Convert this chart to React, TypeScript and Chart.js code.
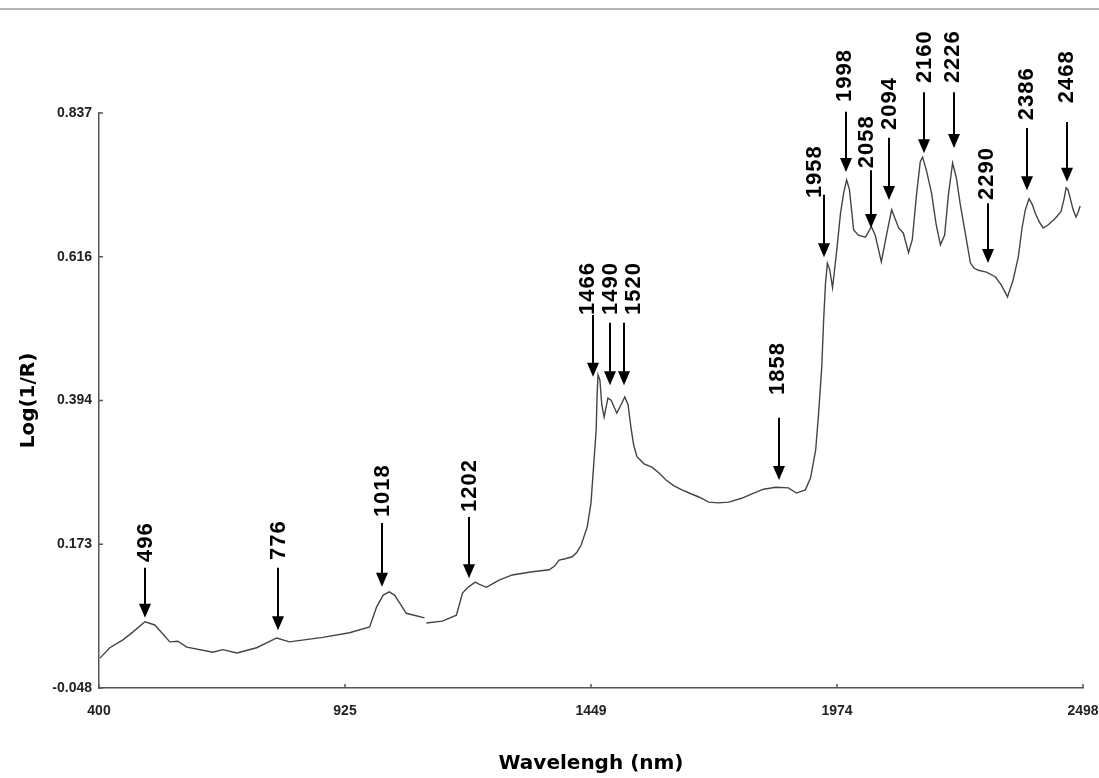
import React, { useEffect, useRef } from 'react';
import { Chart, registerables } from 'chart.js';

Chart.register(...registerables);

// Spectrum (wavelength in nm, Log(1/R)); null marks the break in the trace
const wavelengths = [
  402, 423, 451, 472, 498, 519, 551, 568, 587, 643, 664, 694, 736, 779, 806, 877, 934, 977, 992, 1006,
  1019, 1030, 1041, 1055, 1072, 1094, 1096,
  1098, 1132, 1162, 1175, 1185, 1202, 1210, 1226, 1238, 1253, 1281, 1324, 1360, 1372, 1381, 1394, 1409,
  1419, 1428, 1441, 1449, 1455, 1460, 1462, 1464, 1468, 1472, 1477, 1485, 1492, 1504, 1513, 1521, 1528,
  1534, 1540, 1547, 1562, 1579, 1594, 1609, 1626, 1643, 1662, 1679, 1700, 1721, 1743, 1770, 1796, 1817,
  1843, 1870, 1887, 1906, 1917, 1928, 1934, 1941, 1945, 1949, 1953, 1958, 1964, 1973, 1981, 1988, 1994,
  2000, 2009, 2019, 2034, 2047, 2055, 2068, 2079, 2090, 2098, 2105, 2115, 2126, 2134, 2143, 2151, 2156,
  2164, 2175, 2185, 2194, 2203, 2211, 2220, 2228, 2236, 2247, 2258, 2266, 2275, 2292, 2311, 2324, 2337,
  2349, 2360, 2368, 2375, 2383, 2390, 2396, 2405, 2413, 2424, 2439, 2451, 2458, 2462, 2466, 2470, 2477,
  2483, 2487, 2492,
];
const logInvR = [
  -0.002, 0.014, 0.026, 0.038, 0.054, 0.049, 0.023, 0.024, 0.015, 0.007, 0.011, 0.006, 0.014, 0.029, 0.023,
  0.030, 0.037, 0.046, 0.077, 0.095, 0.100, 0.095, 0.083, 0.067, 0.064, 0.060, null,
  0.052, 0.055, 0.064, 0.098, 0.106, 0.115, 0.112, 0.107, 0.112, 0.118, 0.126, 0.131, 0.134, 0.140, 0.149,
  0.151, 0.154, 0.161, 0.172, 0.200, 0.237, 0.298, 0.349, 0.403, 0.434, 0.426, 0.388, 0.369, 0.398, 0.395,
  0.375, 0.388, 0.400, 0.388, 0.354, 0.326, 0.308, 0.297, 0.292, 0.283, 0.272, 0.263, 0.257, 0.251, 0.246,
  0.238, 0.237, 0.238, 0.244, 0.252, 0.258, 0.261, 0.260, 0.252, 0.257, 0.275, 0.318, 0.372, 0.446, 0.518,
  0.575, 0.606, 0.596, 0.568, 0.626, 0.683, 0.715, 0.734, 0.719, 0.657, 0.649, 0.646, 0.662, 0.649, 0.608,
  0.649, 0.688, 0.673, 0.660, 0.652, 0.622, 0.642, 0.711, 0.762, 0.769, 0.749, 0.714, 0.665, 0.634, 0.649,
  0.711, 0.760, 0.737, 0.698, 0.652, 0.606, 0.598, 0.595, 0.592, 0.585, 0.572, 0.554, 0.580, 0.615, 0.660,
  0.688, 0.705, 0.696, 0.683, 0.669, 0.660, 0.665, 0.675, 0.685, 0.706, 0.722, 0.719, 0.708, 0.688, 0.677,
  0.683, 0.694,
];

// Axis ticks
const xTickValues = [400, 924.5, 1449, 1973.5, 2498];
const xTickLabels = ['400', '925', '1449', '1974', '2498'];
const yTickValues = [-0.048, 0.17325, 0.3945, 0.61575, 0.837];
const yTickLabels = ['-0.048', '0.173', '0.394', '0.616', '0.837'];

// Peak annotations (arrow x, label x in nm; arrow tail/tip and label start in Log(1/R))
const peakLabels = ['496', '776', '1018', '1202', '1466', '1490', '1520', '1858', '1958', '1998', '2058', '2094', '2160', '2226', '2290', '2386', '2468'];
const peakArrowX = [498, 781, 1004, 1189, 1453, 1490, 1519, 1849, 1945, 1992, 2047, 2085, 2158, 2222, 2296, 2379, 2464];
const peakLabelX = [498, 781, 1004, 1189, 1441, 1490, 1538, 1845, 1924, 1988, 2036, 2085, 2158, 2218, 2292, 2377, 2462];
const peakTail = [0.137, 0.137, 0.206, 0.215, 0.526, 0.514, 0.514, 0.368, 0.711, 0.839, 0.749, 0.799, 0.869, 0.869, 0.698, 0.814, 0.823];
const peakTip = [0.060, 0.041, 0.108, 0.121, 0.431, 0.418, 0.418, 0.272, 0.615, 0.746, 0.660, 0.703, 0.775, 0.783, 0.606, 0.718, 0.731];
const peakLabelBase = [0.146, 0.149, 0.215, 0.223, 0.526, 0.526, 0.526, 0.403, 0.706, 0.854, 0.752, 0.811, 0.883, 0.883, 0.703, 0.826, 0.852];

const tickFont = { family: "'Liberation Sans Narrow', 'Liberation Sans', Arial, sans-serif", size: 14, weight: 'bold' as const };
const titleFont = { family: "'DejaVu Sans', 'Liberation Sans', sans-serif", size: 20, weight: 'bold' as const };

const decorPlugin = {
  id: 'decor',
  beforeDraw(chart: any) {
    const { ctx, width } = chart;
    ctx.save();
    ctx.fillStyle = '#ffffff';
    ctx.fillRect(0, 0, width, chart.height);
    ctx.fillStyle = '#b4b4b4';
    ctx.fillRect(0, 8, width, 2);
    ctx.restore();
  },
  afterDraw(chart: any) {
    const { ctx, scales } = chart;
    const xs = scales.x;
    const ys = scales.y;
    const area = chart.chartArea;
    ctx.save();
    // inward tick marks
    ctx.strokeStyle = '#555';
    ctx.lineWidth = 1.5;
    xTickValues.forEach((v) => {
      const px = xs.getPixelForValue(v);
      ctx.beginPath();
      ctx.moveTo(px, area.bottom);
      ctx.lineTo(px, area.bottom - 4);
      ctx.stroke();
    });
    yTickValues.forEach((v) => {
      const py = ys.getPixelForValue(v);
      ctx.beginPath();
      ctx.moveTo(area.left, py);
      ctx.lineTo(area.left + 4, py);
      ctx.stroke();
    });
    // peak arrows and labels
    ctx.strokeStyle = '#000';
    ctx.fillStyle = '#000';
    ctx.lineWidth = 2;
    const head = 14;
    const hw = 6;
    peakLabels.forEach((lab, i) => {
      const px = Math.round(xs.getPixelForValue(peakArrowX[i]));
      const pTail = ys.getPixelForValue(peakTail[i]);
      const pTip = ys.getPixelForValue(peakTip[i]);
      ctx.beginPath();
      ctx.moveTo(px, pTail);
      ctx.lineTo(px, pTip - head + 1);
      ctx.stroke();
      ctx.beginPath();
      ctx.moveTo(px - hw, pTip - head);
      ctx.lineTo(px + hw, pTip - head);
      ctx.lineTo(px, pTip);
      ctx.closePath();
      ctx.fill();
      const lx = xs.getPixelForValue(peakLabelX[i]);
      const ly = ys.getPixelForValue(peakLabelBase[i]);
      ctx.save();
      ctx.translate(lx, ly);
      ctx.rotate(-Math.PI / 2);
      ctx.font = "bold 22px 'Liberation Sans', Arial, sans-serif";
      try { (ctx as any).letterSpacing = '1px'; } catch (e) { /* ignore */ }
      ctx.textAlign = 'left';
      ctx.textBaseline = 'middle';
      ctx.fillText(lab, 0, 1);
      ctx.restore();
    });
    ctx.restore();
  },
};

export default function App() {
  const canvasRef = useRef<HTMLCanvasElement | null>(null);

  useEffect(() => {
    if (!canvasRef.current) return;
    const points = wavelengths.map((w, i) => ({ x: w, y: logInvR[i] }));
    const chart = new Chart(canvasRef.current, {
      type: 'line',
      data: {
        datasets: [
          {
            data: points as any,
            borderColor: '#444444',
            borderWidth: 1.4,
            pointRadius: 0,
            fill: false,
            tension: 0,
            spanGaps: false,
          },
        ],
      },
      options: {
        animation: false,
        responsive: true,
        maintainAspectRatio: false,
        layout: { padding: { left: 0, right: 16, top: 113, bottom: 0 } },
        plugins: { legend: { display: false }, tooltip: { enabled: false } },
        scales: {
          x: {
            type: 'linear',
            min: 400,
            max: 2498,
            afterBuildTicks: (scale: any) => {
              scale.ticks = xTickValues.map((v) => ({ value: v }));
            },
            afterFit: (scale: any) => {
              scale.height = 90;
              scale.paddingLeft = 0;
              scale.paddingRight = 0;
            },
            ticks: {
              color: '#222',
              font: tickFont,
              padding: 15,
              maxRotation: 0,
              autoSkip: false,
              callback: (_v: any, i: number) => xTickLabels[i],
            },
            grid: { display: false, drawTicks: false },
            border: { display: true, color: '#555', width: 1.5 },
            title: { display: true, text: 'Wavelengh (nm)', color: '#000', font: titleFont, padding: { top: 0, bottom: 2 } },
          },
          y: {
            type: 'linear',
            min: -0.048,
            max: 0.837,
            afterBuildTicks: (scale: any) => {
              scale.ticks = yTickValues.map((v) => ({ value: v }));
            },
            afterFit: (scale: any) => {
              scale.width = 99;
              scale.paddingTop = 0;
              scale.paddingBottom = 0;
            },
            ticks: {
              color: '#222',
              font: tickFont,
              padding: 7,
              autoSkip: false,
              callback: (_v: any, i: number) => yTickLabels[i],
            },
            grid: { display: false, drawTicks: false },
            border: { display: true, color: '#555', width: 1.5 },
            title: { display: true, text: 'Log(1/R)', color: '#000', font: titleFont, padding: { top: 17, bottom: 0 } },
          },
        },
      },
      plugins: [decorPlugin],
    });
    return () => chart.destroy();
  }, []);

  return (
    <div style={{ position: 'absolute', left: 0, top: 0, width: 1099, height: 778, background: '#fff' }}>
      <canvas ref={canvasRef} />
    </div>
  );
}
